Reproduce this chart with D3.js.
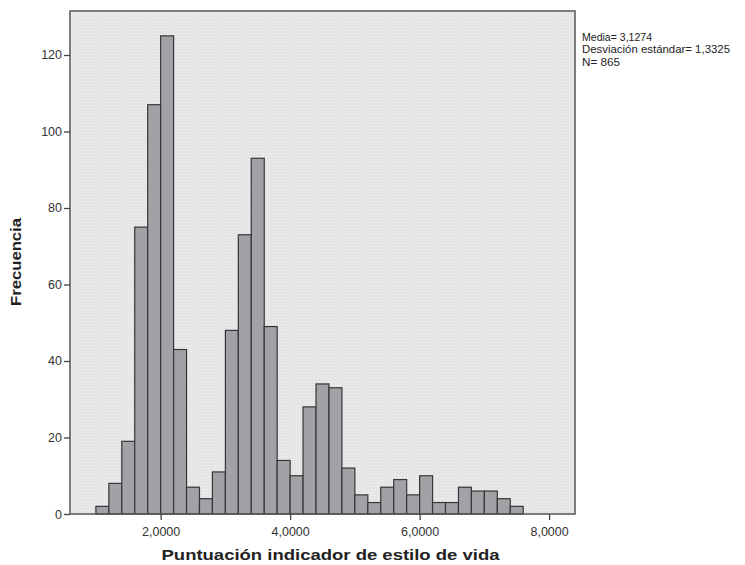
<!DOCTYPE html>
<html>
<head>
<meta charset="utf-8">
<script src="https://cdn.jsdelivr.net/npm/d3@7"></script>
<style>
  body { margin: 0; background: #fff; }
  svg { display: block; }
</style>
</head>
<body>
<svg width="745" height="565"></svg>
<script>
// histogram bins: lower edge, width 0.2
const binStarts = [1.0, 1.2, 1.4, 1.6, 1.8, 2.0, 2.2, 2.4, 2.6, 2.8,
                   3.0, 3.2, 3.4, 3.6, 3.8, 4.0, 4.2, 4.4, 4.6, 4.8,
                   5.0, 5.2, 5.4, 5.6, 5.8, 6.0, 6.2, 6.4, 6.6, 6.8,
                   7.0, 7.2, 7.4];
const counts = [2, 8, 19, 75, 107, 125, 43, 7, 4, 11,
                48, 73, 93, 49, 14, 10, 28, 34, 33, 12,
                5, 3, 7, 9, 5, 10, 3, 3, 7, 6,
                6, 4, 2];
const binWidth = 0.2;
const xTicks = [2, 4, 6, 8];
const yTicks = [0, 20, 40, 60, 80, 100, 120];
const statsLines = ['Media= 3,1274', 'Desviación estándar= 1,3325', 'N= 865'];
const statsWidths = [70, 148, 38];

const svg = d3.select('svg');
const margin = {top: 11, right: 170, bottom: 51, left: 70};
const width = 745 - margin.left - margin.right,
      height = 565 - margin.top - margin.bottom;

const x = d3.scaleLinear().domain([0.6, 8.4]).range([0, width]);
const y = d3.scaleLinear().domain([0, 131.5]).range([height, 0]);

const defs = svg.append('defs');
const pat = defs.append('pattern')
    .attr('id', 'dots')
    .attr('width', 3).attr('height', 3)
    .attr('patternUnits', 'userSpaceOnUse');
pat.append('rect').attr('width', 3).attr('height', 3).attr('fill', '#e5e5e7');
pat.append('rect').attr('x', 1).attr('y', 1).attr('width', 1).attr('height', 1).attr('fill', '#f3f3f4');

const g = svg.append('g')
    .attr('transform', 'translate(' + margin.left + ',' + margin.top + ')');

g.append('rect')
    .attr('width', width)
    .attr('height', height)
    .attr('fill', 'url(#dots)');

g.append('g')
    .attr('class', 'bars')
  .selectAll('rect')
  .data(binStarts.map((s, i) => ({x0: s, x1: s + binWidth, n: counts[i]})))
  .enter().append('rect')
    .attr('x', d => x(d.x0))
    .attr('y', d => y(d.n))
    .attr('width', d => x(d.x1) - x(d.x0))
    .attr('height', d => y(0) - y(d.n))
    .attr('fill', '#a2a2a6')
    .attr('stroke', '#363636')
    .attr('stroke-width', 1.2);

g.append('rect')
    .attr('width', width)
    .attr('height', height)
    .attr('fill', 'none')
    .attr('stroke', '#555')
    .attr('stroke-width', 1.5);

const xAxis = g.append('g')
    .attr('transform', 'translate(0,' + height + ')')
    .call(d3.axisBottom(x).tickValues(xTicks).tickSize(6).tickSizeOuter(0)
      .tickFormat(d => d3.format('.4f')(d).replace('.', ',')));
const yAxis = g.append('g')
    .call(d3.axisLeft(y).tickValues(yTicks).tickSize(6).tickSizeOuter(0));

[xAxis, yAxis].forEach(a => {
  a.select('.domain').remove();
  a.selectAll('line').attr('stroke', '#444').attr('stroke-width', 1.3);
  a.selectAll('text')
      .attr('fill', '#333')
      .style('font-family', '"Liberation Sans", Arial, sans-serif')
      .style('font-size', '12.5px');
});
xAxis.selectAll('text').attr('dy', '1.05em');
yAxis.selectAll('text').attr('x', -8);

svg.append('text')
    .attr('x', margin.left + width / 2 + 8)
    .attr('y', 560)
    .attr('text-anchor', 'middle')
    .attr('fill', '#222')
    .attr('textLength', 338)
    .attr('lengthAdjust', 'spacingAndGlyphs')
    .style('font-family', '"Liberation Sans", Arial, sans-serif')
    .style('font-weight', 'bold')
    .style('font-size', '15px')
    .text('Puntuación indicador de estilo de vida');

svg.append('text')
    .attr('transform', 'translate(21,262) rotate(-90)')
    .attr('text-anchor', 'middle')
    .attr('fill', '#222')
    .attr('textLength', 88)
    .attr('lengthAdjust', 'spacingAndGlyphs')
    .style('font-family', '"Liberation Sans", Arial, sans-serif')
    .style('font-weight', 'bold')
    .style('font-size', '15px')
    .text('Frecuencia');

svg.append('g')
    .attr('transform', 'translate(582,41)')
  .selectAll('text')
  .data(statsLines)
  .enter().append('text')
    .attr('y', (d, i) => i * 12.3)
    .attr('fill', '#222')
    .attr('textLength', (d, i) => statsWidths[i])
    .attr('lengthAdjust', 'spacingAndGlyphs')
    .style('font-family', '"Liberation Sans", Arial, sans-serif')
    .style('font-size', '10.5px')
    .text(d => d);
</script>
</body>
</html>
